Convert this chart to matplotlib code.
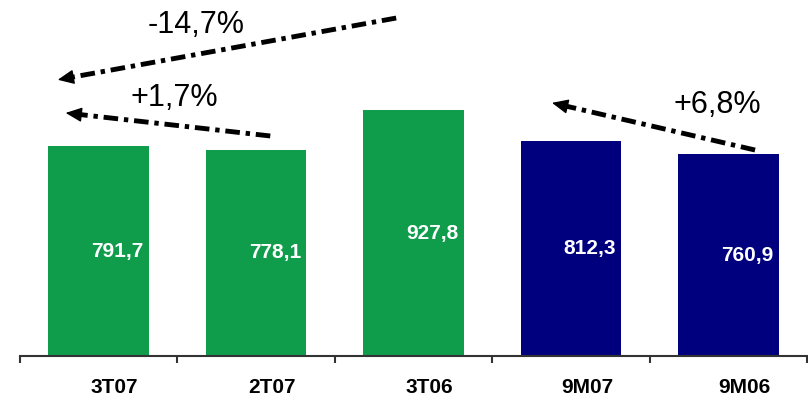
import numpy as np
import matplotlib.pyplot as plt
from matplotlib.transforms import ScaledTranslation

# data
categories = ['3T07', '2T07', '3T06', '9M07', '9M06']
values = [791.7, 778.1, 927.8, 812.3, 760.9]
value_labels = ['791,7', '778,1', '927,8', '812,3', '760,9']
bar_colors = ['#0f9d4c', '#0f9d4c', '#0f9d4c', '#00007f', '#00007f']

# change arrows: (x start, y start, x end, y end, label, label x, label y)
changes = [
    (1.89, 1275, -0.26, 1042, '-14,7%', 0.62, 1249),
    (1.09, 830, -0.21, 917, '+1,7%', 0.48, 974),
    (4.17, 777, 2.88, 955, '+6,8%', 3.93, 947),
]

plt.rcParams['font.family'] = ['Liberation Sans', 'DejaVu Sans']

fig = plt.figure(figsize=(8.08, 4.04), dpi=100)
ax = fig.add_axes([20 / 808, 48 / 404, 787 / 808, 356 / 404])

x = list(range(len(categories)))
ax.bar(x, values, width=0.64, color=bar_colors, zorder=2)

for i, v in enumerate(values):
    ax.text(i + 0.12, v / 2, value_labels[i], color='white', fontsize=15,
            fontweight='bold', ha='center', va='center', zorder=3)

ax.set_xlim(-0.5, len(categories) - 0.5)
ax.set_ylim(0, 1343)

# dash-dot arrows, head drawn separately so it stays solid
head_px = 14
for x0, y0, x1, y1, lbl, tx, ty in changes:
    p0 = ax.transData.transform((x0, y0))
    p1 = ax.transData.transform((x1, y1))
    d = (p1 - p0) / np.hypot(*(p1 - p0))
    base = ax.transData.inverted().transform(p1 - d * head_px)
    ax.plot([x0, base[0]], [y0, base[1]], color='black', lw=3.5,
            dashes=(3.0, 1.2, 0.9, 1.2), dash_capstyle='butt', zorder=4)
    ax.annotate('', xy=(x1, y1), xytext=(base[0], base[1]),
                arrowprops=dict(arrowstyle='-|>,head_length=1.0,head_width=0.45',
                                color='black', lw=1, shrinkA=0, shrinkB=0), zorder=5)
    ax.text(tx, ty, lbl, fontsize=22, ha='center', va='center', color='black')

for side in ['left', 'right', 'top']:
    ax.spines[side].set_visible(False)
ax.spines['bottom'].set_color('#333333')
ax.spines['bottom'].set_linewidth(1.5)
ax.set_yticks([])

ax.set_xticks(x)
ax.set_xticklabels(categories, fontsize=15, fontweight='bold')
ax.tick_params(axis='x', which='major', length=0, pad=16)
ax.set_xticks([i - 0.5 for i in range(len(categories) + 1)], minor=True)
ax.tick_params(axis='x', which='minor', length=5, width=1.5, color='#333333')
for lbl in ax.get_xticklabels():
    lbl.set_transform(lbl.get_transform() + ScaledTranslation(16 / 100, 0, fig.dpi_scale_trans))

fig.savefig('out.png', dpi=100)
